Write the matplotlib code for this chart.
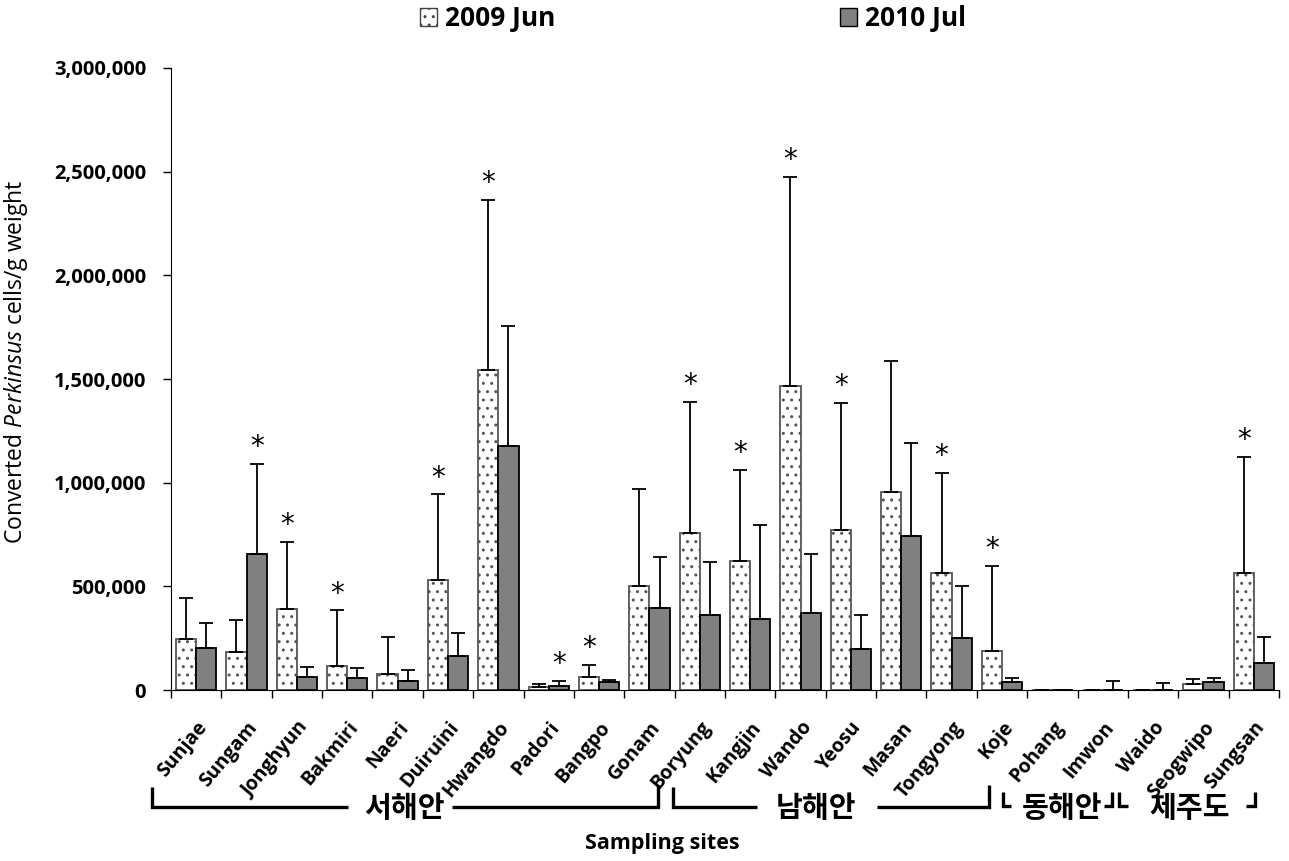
import matplotlib.pyplot as plt
import matplotlib.patches as mpatches
from matplotlib.lines import Line2D
from matplotlib.ticker import FuncFormatter
import numpy as np

plt.rcParams['font.family'] = ['Open Sans', 'Noto Sans CJK KR', 'DejaVu Sans']
plt.rcParams['mathtext.fontset'] = 'custom'
plt.rcParams['mathtext.rm'] = 'Open Sans'
plt.rcParams['mathtext.it'] = 'Open Sans:italic'
plt.rcParams['hatch.linewidth'] = 1.0

sites = ['Sunjae', 'Sungam', 'Jonghyun', 'Bakmiri', 'Naeri', 'Duiruini', 'Hwangdo',
         'Padori', 'Bangpo', 'Gonam', 'Boryung', 'Kangjin', 'Wando', 'Yeosu',
         'Masan', 'Tongyong', 'Koje', 'Pohang', 'Imwon', 'Waido', 'Seogwipo', 'Sungsan']

jun2009 = [245000, 184000, 390000, 118000, 77000, 530000, 1543000, 16000, 64000, 503000,
           756000, 624000, 1468000, 770000, 956000, 562000, 190000, 0, 0, 0, 30000, 564000]
jun2009_sd = [198000, 153000, 326000, 266000, 181000, 413000, 822000, 13000, 58000, 467000,
              633000, 438000, 1008000, 613000, 629000, 487000, 408000, 0, 0, 0, 22000, 559000]

jul2010 = [203000, 656000, 63000, 56000, 42000, 164000, 1176000, 20000, 37000, 397000,
           363000, 343000, 369000, 197000, 743000, 250000, 37000, 0, 2000, 1000, 37000, 129000]
jul2010_sd = [121000, 435000, 48000, 49000, 55000, 113000, 579000, 25000, 11000, 246000,
              253000, 453000, 287000, 166000, 447000, 253000, 21000, 0, 43000, 34000, 21000, 127000]

# significant differences (site index)
sig2009 = [2, 3, 5, 6, 8, 10, 11, 12, 13, 15, 16, 21]
sig2010 = [1, 7]

regions = ['서해안', '남해안', '동해안', '제주도']

fig = plt.figure(figsize=(12.89, 8.61), dpi=100)
ax = fig.add_axes([171 / 1289, 1 - 690 / 861, (1279 - 171) / 1289, (690 - 68) / 861])

x = np.arange(len(sites))
w = 0.4
ax.bar(x - w / 2, jun2009, w, color='white', edgecolor='#555555', hatch='..', linewidth=1.3)
ax.bar(x + w / 2, jul2010, w, color='#808080', edgecolor='black', linewidth=1.3)

ax.errorbar(x - w / 2, jun2009, yerr=[np.zeros(len(x)), jun2009_sd], fmt='none',
            ecolor='black', elinewidth=1.3, capsize=5, capthick=1.3)
ax.errorbar(x + w / 2, jul2010, yerr=[np.zeros(len(x)), jul2010_sd], fmt='none',
            ecolor='black', elinewidth=1.3, capsize=5, capthick=1.3)

top2009 = np.array(jun2009) + np.array(jun2009_sd)
top2010 = np.array(jul2010) + np.array(jul2010_sd)
for i in sig2009:
    ax.annotate('*', (x[i] - w / 2, top2009[i]), xytext=(0, 2), textcoords='offset points',
                ha='center', va='bottom', fontsize=20, family='DejaVu Sans')
for i in sig2010:
    ax.annotate('*', (x[i] + w / 2, top2010[i]), xytext=(0, 2), textcoords='offset points',
                ha='center', va='bottom', fontsize=20, family='DejaVu Sans')

ax.set_xlim(-0.5, len(sites) - 0.5)
ax.set_ylim(0, 3000000)
ax.set_yticks(np.arange(0, 3000001, 500000))
ax.yaxis.set_major_formatter(FuncFormatter(lambda v, p: f'{int(v):,}'))
for lab in ax.get_yticklabels():
    lab.set_fontweight('bold')
    lab.set_fontsize(14.5)
ax.tick_params(axis='y', direction='out', length=6, width=1, pad=12)

ax.set_xticks(x)
ax.set_xticklabels(sites, rotation=50, ha='right', rotation_mode='anchor',
                   fontsize=14, fontweight='bold')
ax.tick_params(axis='x', which='major', length=0, pad=20)
ax.set_xticks(np.arange(-0.5, len(sites), 1), minor=True)
ax.tick_params(axis='x', which='minor', direction='out', length=6, width=1)

ax.spines['top'].set_visible(False)
ax.spines['right'].set_visible(False)

ax.set_ylabel('Converted $\\mathit{Perkinsus}$ cells/g weight', fontsize=16.5)
ax.yaxis.set_label_coords(-0.127, 0.527)

# legend along the top
h1 = mpatches.Patch(facecolor='white', edgecolor='#444444', hatch='..')
h2 = mpatches.Patch(facecolor='#808080', edgecolor='black')
fig.legend([h1, h2], ['2009 Jun', '2010 Jul'], loc='center', bbox_to_anchor=(693 / 1289, 1 - 19 / 861),
           ncol=2, frameon=False, handlelength=0.65, handleheight=0.65, handletextpad=0.3,
           columnspacing=10.8, prop={'weight': 'bold', 'size': 19})

# region brackets under the site names
def fx(px):
    return px / 1289

def fy(py):
    return 1 - py / 861

def seg(xs, ys):
    fig.add_artist(Line2D([fx(v) for v in xs], [fy(v) for v in ys], color='black',
                          linewidth=2.4, solid_joinstyle='miter', solid_capstyle='butt'))

seg([152, 152, 348], [787, 807, 807])
seg([452, 658, 658], [807, 807, 785])
seg([673, 673, 757], [787, 807, 807])
seg([877, 989, 989], [807, 807, 785])
seg([1003, 1003, 1011], [792, 806, 806])
seg([1104, 1112, 1112], [806, 806, 792])
seg([1119, 1119, 1128], [792, 806, 806])
seg([1246, 1255, 1255], [806, 806, 792])

for cx, name in zip([404, 816, 1062, 1190], regions):
    fig.text(fx(cx), fy(809), name, ha='center', va='center', fontsize=21, fontweight='bold')

fig.text(fx(662), fy(843), 'Sampling sites', ha='center', va='center', fontsize=15.5, fontweight='bold')

fig.savefig('out.png', dpi=100)
